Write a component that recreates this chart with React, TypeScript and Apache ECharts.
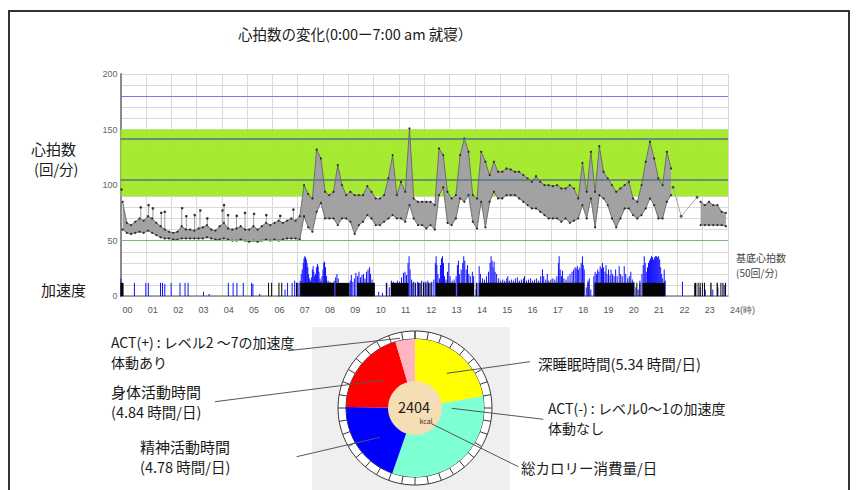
import React, { useEffect, useRef } from 'react';
import * as echarts from 'echarts';

// ---------- heart-rate data (10-minute slots, 0:00 – 24:00) ----------
const hrLow: (number | null)[] = [
  60, 57, 56, 57, 58, 57, 59, 57, 55, 53, 52, 52,
  51, 51, 52, 52, 52, 52, 52, 52, 53, 52, 51, 51,
  52, 51, 50, 50, 51, 50, 49, 50, 49, 50, 51, 50,
  51, 50, 51, 52, 52, 52, 51, 72, 62, 58, 76, 84,
  70, 70, 70, 64, 70, 70, 67, 56, 64, 67, 73, 70,
  64, 64, 67, 70, 73, 70, 70, 67, 82, 70, 64, 64,
  61, 64, 60, 91, 98, 66, 64, 70, 88, 85, 91, 67,
  61, 85, 62, 85, 94, 88, 88, 91, 91, 91, 88, 85,
  82, 79, 79, 76, 73, 70, 70, 70, 67, 70, 66, 68,
  70, 82, 70, 88, 62, 91, 88, 82, 70, 62, 70, 79,
  79, 73, 70, 73, 79, 88, 82, 70, 70, 85, 91, null,
  null, null, null, null, null, 64, 64, 64, 64, 64, 64, 63,
];
const hrHigh: (number | null)[] = [
  85, 66, 64, 67, 70, 68, 72, 70, 66, 63, 60, 58,
  57, 58, 63, 60, 60, 59, 61, 62, 64, 60, 59, 63,
  66, 61, 60, 61, 63, 60, 60, 63, 60, 63, 66, 64,
  66, 68, 66, 68, 70, 68, 72, 100, 92, 88, 132, 124,
  94, 91, 94, 118, 100, 91, 94, 91, 91, 91, 99, 94,
  88, 88, 91, 106, 127, 91, 103, 94, 151, 88, 85, 85,
  85, 85, 82, 133, 127, 94, 88, 91, 127, 142, 130, 91,
  88, 130, 121, 109, 121, 112, 112, 115, 114, 112, 112, 109,
  106, 103, 108, 103, 100, 100, 99, 100, 97, 97, 100, 97,
  88, 120, 94, 130, 94, 135, 112, 106, 100, 94, 97, 100,
  103, 88, 85, 100, 121, 139, 124, 106, 100, 130, 115, null,
  null, null, null, null, null, 85, 82, 85, 82, 82, 76, 75,
];
// isolated night-time peaks [hour, bpm]
const hrNightPeaks: number[][] = [
  [0.02, 97], [0.8, 80], [1.11, 82], [1.28, 79], [1.61, 75], [1.75, 76],
  [2.42, 80], [2.6, 72], [2.93, 73], [3.14, 78], [3.43, 70], [4.02, 78],
  [4.09, 82], [4.25, 73], [4.58, 73], [4.92, 75], [5.26, 75], [5.76, 73],
  [6.3, 73], [6.83, 78],
];
// sparse readings bridging the gap after 21:50 [hour, bpm]
const hrBridge: number[][] = [[21.83, 98], [22.15, 72], [22.78, 89]];

// ---------- acceleration data ----------
const actLevel = 12; // ACT(+) level marks
const actBlocks: number[][] = [
  [0, 0.12], [5.83, 5.86], [5.95, 5.98], [6.24, 6.27], [6.35, 6.38], [6.94, 7.0],
  [7.1, 8.45], [8.5, 9.05], [9.35, 10.05], [10.5, 10.53], [10.68, 11.38],
  [11.5, 11.53], [11.62, 11.65], [11.75, 11.78], [11.85, 11.88], [11.95, 12.0],
  [12.05, 12.08], [12.15, 12.18], [12.25, 12.28], [12.46, 13.25], [13.31, 13.97],
  [14.04, 14.07], [14.17, 18.32], [18.45, 18.48], [18.72, 20.3], [20.38, 20.41],
  [20.5, 20.53], [20.62, 21.51], [22.67, 22.75], [22.8, 22.83], [22.88, 22.92],
  [22.97, 23.0], [23.05, 23.08], [23.3, 23.35], [23.55, 23.6], [23.7, 23.73],
  [23.78, 23.82], [23.88, 23.92],
];
const accelSpikes: number[][] = [
  [0.02, 16], [0.06, 12], [0.55, 12], [1.0, 12], [1.1, 12], [1.58, 12], [1.66, 12],
  [1.75, 11], [2.0, 12], [2.35, 12], [2.55, 12], [2.67, 12], [3.28, 4], [3.5, 2],
  [4.26, 12], [4.45, 12], [4.6, 12], [4.85, 12], [5.18, 12], [5.23, 11], [5.5, 2],
  [6.5, 6], [6.6, 12], [6.78, 12], [6.88, 14], [6.95, 12],
  [7.05, 12], [7.1, 14], [7.14, 20], [7.18, 24], [7.22, 30], [7.25, 34], [7.28, 36],
  [7.31, 35], [7.34, 33], [7.37, 30], [7.4, 26], [7.43, 20], [7.46, 16], [7.5, 14],
  [7.54, 17], [7.58, 24], [7.61, 27], [7.64, 22], [7.67, 18], [7.7, 20], [7.74, 26],
  [7.78, 29], [7.81, 27], [7.84, 22], [7.88, 16], [7.92, 14], [7.96, 18], [8.0, 24],
  [8.03, 30], [8.06, 31], [8.1, 26], [8.14, 18], [8.2, 14], [8.28, 13], [8.36, 12],
  [8.44, 14], [8.5, 17], [8.55, 20], [8.6, 16], [8.68, 10], [8.78, 6], [8.9, 5],
  [9.0, 7], [9.08, 14], [9.12, 19], [9.18, 13], [9.24, 16], [9.3, 21], [9.36, 18],
  [9.42, 22], [9.48, 17], [9.54, 19], [9.6, 20], [9.66, 16], [9.72, 22], [9.78, 24],
  [9.84, 26], [9.88, 20], [9.94, 15], [10.0, 10], [10.2, 4], [10.35, 3], [10.5, 12],
  [10.62, 8], [10.7, 14], [10.78, 13], [10.86, 12], [10.94, 14], [11.02, 13],
  [11.1, 17], [11.18, 21], [11.24, 22], [11.3, 19], [11.36, 30], [11.4, 36],
  [11.44, 24], [11.5, 15], [11.58, 13], [11.66, 12], [11.74, 13], [11.82, 12],
  [11.9, 14], [11.98, 13], [12.06, 13], [12.14, 14], [12.22, 12], [12.3, 13],
  [12.38, 15], [12.44, 30], [12.47, 36], [12.5, 28], [12.54, 20], [12.6, 16],
  [12.64, 28], [12.68, 34], [12.72, 36], [12.76, 30], [12.8, 18], [12.86, 15],
  [12.92, 22], [12.97, 30], [13.02, 18], [13.1, 14], [13.18, 15], [13.26, 18],
  [13.31, 28], [13.35, 32], [13.4, 20], [13.46, 24], [13.52, 30], [13.56, 36],
  [13.6, 32], [13.66, 24], [13.71, 28], [13.76, 20], [13.82, 18], [13.9, 22],
  [13.95, 18], [14.05, 6], [14.12, 12], [14.17, 27], [14.22, 20], [14.3, 16],
  [14.38, 15], [14.46, 18], [14.54, 22], [14.6, 30], [14.64, 36], [14.68, 32],
  [14.72, 26], [14.76, 31], [14.8, 22], [14.86, 20], [14.94, 16], [15.02, 14],
  [15.1, 15], [15.18, 14], [15.26, 16], [15.3, 18], [15.36, 14], [15.44, 15],
  [15.52, 14], [15.6, 16], [15.68, 17], [15.76, 14], [15.84, 15], [15.92, 16],
  [15.96, 18], [16.04, 14], [16.12, 15], [16.2, 16], [16.28, 14], [16.36, 15],
  [16.44, 16], [16.52, 14], [16.6, 18], [16.67, 24], [16.72, 18], [16.8, 15],
  [16.86, 20], [16.92, 14], [17.0, 15], [17.08, 16], [17.16, 15], [17.24, 18],
  [17.3, 30], [17.33, 36], [17.37, 24], [17.42, 18], [17.46, 23], [17.52, 16],
  [17.6, 15], [17.68, 18], [17.76, 20], [17.84, 22], [17.9, 24], [17.96, 26],
  [18.0, 25], [18.05, 27], [18.1, 24], [18.15, 26], [18.2, 30], [18.25, 36],
  [18.28, 28], [18.32, 24], [18.4, 8], [18.47, 14], [18.52, 16], [18.58, 6],
  [18.7, 18], [18.75, 22], [18.8, 20], [18.85, 24], [18.9, 22], [18.95, 27],
  [19.0, 25], [19.04, 30], [19.08, 26], [19.14, 22], [19.18, 28], [19.22, 20],
  [19.28, 24], [19.34, 19], [19.38, 24], [19.44, 20], [19.5, 18], [19.56, 24],
  [19.62, 18], [19.7, 27], [19.76, 20], [19.82, 18], [19.9, 27], [19.96, 20],
  [20.04, 16], [20.1, 18], [20.16, 22], [20.22, 15], [20.28, 13], [20.36, 8],
  [20.45, 6], [20.52, 14], [20.6, 20], [20.65, 28], [20.69, 36], [20.73, 30],
  [20.77, 22], [20.82, 26], [20.86, 30], [20.9, 32], [20.94, 34], [20.98, 36],
  [21.02, 35], [21.06, 33], [21.1, 35], [21.14, 36], [21.18, 36], [21.22, 35],
  [21.26, 36], [21.3, 33], [21.34, 26], [21.38, 20], [21.42, 16], [21.48, 24],
  [21.52, 14], [22.2, 13], [22.7, 10], [22.9, 8], [23.1, 6], [23.4, 6], [23.6, 8],
  [23.85, 10],
];

// ---------- reference lines / bands ----------
const targetBand = [90, 150];
const upperLimit = 180;
const innerLines = [142, 105];
const baseHeartRate = 50;
const yLabelValues = [0, 50, 100, 150, 200];

// ---------- daily breakdown pie (hours/day, clockwise from 12 o'clock) ----------
const pieNames = ['深睡眠時間', 'ACT(-)', '精神活動時間', '身体活動時間', 'ACT(+)'];
const pieHours = [5.34, 7.94, 4.78, 4.84, 1.1];
const pieColors = ['#ffff00', '#7fffd4', '#0000ff', '#ff0000', '#ffb6c1'];
const totalKcal = 2404;

const FONT = '"Noto Sans CJK JP", "Noto Sans", sans-serif';

export default function App() {
  const ref = useRef<HTMLDivElement>(null);
  useEffect(() => {
    const chart = echarts.init(ref.current!, null, { renderer: 'svg' });
    const slotT = hrLow.map((_, i) => (i + 0.5) / 6);
    const lowData = hrLow.map((lo, i) => [slotT[i], lo]);
    const highData = hrHigh.map((hi, i) => [slotT[i], hi]);
    // contiguous runs of non-null slots
    const runs: number[][] = [];
    let start = -1;
    hrLow.forEach((lo, i) => {
      if (lo != null && start < 0) start = i;
      if ((lo == null || i === hrLow.length - 1) && start >= 0) {
        runs.push([start, lo == null ? i - 1 : i]);
        start = -1;
      }
    });

    const cx = 415;
    const cy = 408;

    const txt = (text: string, x: number, y: number, size: number, extra: any = {}) => ({
      type: 'text',
      x,
      y,
      z: 100,
      style: {
        text,
        fill: '#1a1a1a',
        fontSize: size,
        fontFamily: FONT,
        align: 'left',
        verticalAlign: 'middle',
        ...extra,
      },
    });
    const lead = (x1: number, y1: number, x2: number, y2: number) => ({
      type: 'line',
      z: 100,
      shape: { x1, y1, x2, y2 },
      style: { stroke: '#555', lineWidth: 1 },
    });

    const option: any = {
      animation: false,
      grid: { left: 120.5, right: 129, top: 74, bottom: 193.8, containLabel: false },
      xAxis: {
        type: 'value',
        min: 0,
        max: 24,
        interval: 1,
        axisLine: { show: true, lineStyle: { color: '#8a8a8a', width: 1.5 } },
        axisTick: { show: false },
        splitLine: { show: true, lineStyle: { color: '#d9d9d9', width: 1 } },
        axisLabel: {
          show: true,
          showMinLabel: true,
          showMaxLabel: true,
          margin: 9,
          fontSize: 9,
          color: '#555',
          fontFamily: 'Liberation Sans, Arial, sans-serif',
          align: 'left',
          padding: [0, 0, 0, 2],
          formatter: (v: number) => (v === 24 ? '24(時)' : String(v).padStart(2, '0')),
        },
      },
      yAxis: {
        type: 'value',
        min: 0,
        max: 200,
        interval: 10,
        axisLine: { show: true, lineStyle: { color: '#8a8a8a', width: 2 } },
        axisTick: { show: false },
        splitLine: { show: true, lineStyle: { color: '#d9d9d9', width: 1 } },
        axisLabel: {
          margin: 3,
          fontSize: 9,
          color: '#666',
          fontFamily: 'Liberation Sans, Arial, sans-serif',
          formatter: (v: number) => (yLabelValues.includes(v) ? String(v) : ''),
        },
      },
      series: [
        {
          name: 'hrBand',
          type: 'custom',
          coordinateSystem: 'cartesian2d',
          encode: { x: [0, 1], y: [2, 3] },
          data: runs.map(([s, e]) => [slotT[s], slotT[e], 50, 150]),
          z: 3,
          renderItem: (params: any, api: any) => {
            const [s, e] = runs[params.dataIndex];
            const pts: number[][] = [];
            for (let i = s; i <= e; i++) pts.push(api.coord([slotT[i], hrHigh[i]]));
            for (let i = e; i >= s; i--) pts.push(api.coord([slotT[i], hrLow[i]]));
            return { type: 'polygon', shape: { points: pts }, style: { fill: '#a2a2a2' } };
          },
        },
        {
          name: 'hrLowLine',
          type: 'line',
          data: lowData,
          symbol: 'circle',
          symbolSize: 2.2,
          showSymbol: true,
          itemStyle: { color: '#2a2a2a' },
          lineStyle: { color: '#666', width: 0.9 },
          z: 4,
          markArea: {
            silent: true,
            itemStyle: { color: '#9de81c', opacity: 0.9 },
            data: [[{ yAxis: targetBand[0] }, { yAxis: targetBand[1] }]],
          },
          markLine: {
            silent: true,
            symbol: 'none',
            label: { show: false },
            data: [
              { yAxis: upperLimit, lineStyle: { color: '#7a7ae0', width: 1, type: 'solid' } },
              { yAxis: innerLines[0], lineStyle: { color: '#58708c', width: 1.5, type: 'solid' } },
              { yAxis: innerLines[1], lineStyle: { color: '#58708c', width: 1.5, type: 'solid' } },
              { yAxis: baseHeartRate, lineStyle: { color: '#78b878', width: 1, type: 'solid' } },
            ],
          },
        },
        {
          name: 'hrHighLine',
          type: 'line',
          data: highData,
          symbol: 'circle',
          symbolSize: 2.2,
          showSymbol: true,
          itemStyle: { color: '#2a2a2a' },
          lineStyle: { color: '#666', width: 0.9 },
          z: 4,
        },
        {
          name: 'hrPeaks',
          type: 'custom',
          coordinateSystem: 'cartesian2d',
          encode: { x: 0, y: 1 },
          data: hrNightPeaks,
          z: 4,
          renderItem: (params: any, api: any) => {
            const h = api.value(0);
            const v = api.value(1);
            const slot = Math.min(143, Math.floor(h * 6));
            const base = (hrHigh[slot] as number) ?? v;
            const top = api.coord([h, v]);
            const bot = api.coord([h, base]);
            return {
              type: 'group',
              children: [
                {
                  type: 'line',
                  shape: { x1: top[0], y1: top[1], x2: bot[0], y2: bot[1] },
                  style: { stroke: '#9a9a9a', lineWidth: 1 },
                },
                { type: 'circle', shape: { cx: top[0], cy: top[1], r: 1.3 }, style: { fill: '#333' } },
              ],
            };
          },
        },
        {
          name: 'hrBridge',
          type: 'line',
          data: hrBridge,
          symbol: 'circle',
          symbolSize: 3,
          itemStyle: { color: '#555' },
          lineStyle: { color: '#aaa', width: 1 },
          z: 4,
        },
        {
          name: 'accelSpikes',
          type: 'custom',
          coordinateSystem: 'cartesian2d',
          encode: { x: 0, y: 1 },
          data: accelSpikes,
          z: 5,
          renderItem: (params: any, api: any) => {
            const h = api.value(0);
            const top = api.coord([h, api.value(1)]);
            const bot = api.coord([h, 0]);
            return {
              type: 'line',
              shape: { x1: top[0], y1: top[1], x2: bot[0], y2: bot[1] },
              style: { stroke: '#1010ff', lineWidth: 1 },
            };
          },
        },
        {
          name: 'actBlocks',
          type: 'custom',
          coordinateSystem: 'cartesian2d',
          encode: { x: [0, 1], y: 2 },
          data: actBlocks.map(([s, e]) => [s, e, actLevel]),
          z: 6,
          renderItem: (params: any, api: any) => {
            const p0 = api.coord([api.value(0), api.value(2)]);
            const p1 = api.coord([api.value(1), 0]);
            return {
              type: 'rect',
              shape: { x: p0[0], y: p0[1], width: Math.max(1, p1[0] - p0[0]), height: p1[1] - p0[1] },
              style: { fill: '#050505' },
            };
          },
        },
        {
          name: 'ring',
          type: 'pie',
          center: [cx, cy],
          radius: [69, 77],
          silent: true,
          label: { show: false },
          labelLine: { show: false },
          itemStyle: { color: '#ffffff', borderColor: '#3a3a3a', borderWidth: 1 },
          data: [{ value: 1, name: 'ring' }],
          z: 3,
        },
        {
          name: 'ticks',
          type: 'gauge',
          center: [cx, cy],
          radius: 77,
          startAngle: 90,
          endAngle: -270,
          min: 0,
          max: 24,
          splitNumber: 36,
          silent: true,
          axisLine: { show: true, lineStyle: { width: 8, color: [[1, 'rgba(0,0,0,0)']] } },
          splitLine: { show: true, length: 8, distance: -8, lineStyle: { color: '#3a3a3a', width: 1 } },
          axisTick: { show: false },
          axisLabel: { show: false },
          pointer: { show: false },
          anchor: { show: false },
          title: { show: false },
          detail: { show: false },
          data: [{ value: 0 }],
          z: 4,
        },
        {
          name: 'breakdown',
          type: 'pie',
          center: [cx, cy],
          radius: [0, 69],
          startAngle: 90,
          clockwise: true,
          silent: true,
          label: { show: false },
          labelLine: { show: false },
          data: pieNames.map((n, i) => ({ name: n, value: pieHours[i], itemStyle: { color: pieColors[i] } })),
          z: 5,
        },
        {
          name: 'kcal',
          type: 'pie',
          center: [cx, cy],
          radius: [0, 27],
          silent: true,
          label: { show: false },
          labelLine: { show: false },
          itemStyle: { color: '#f5deb3' },
          data: [{ value: totalKcal, name: 'kcal' }],
          z: 6,
        },
      ],
      graphic: [
        { type: 'rect', z: 0, shape: { x: 312, y: 327, width: 198, height: 170 }, style: { fill: '#efefef' } },
        {
          type: 'rect',
          z: 100,
          shape: { x: 9, y: 11, width: 840, height: 490 },
          style: { fill: 'none', stroke: '#333', lineWidth: 2 },
        },
        txt('心拍数の変化(0:00ー7:00 am 就寝）', 238, 33, 14.5),
        txt('心拍数', 31, 148, 15),
        txt('(回/分)', 34, 168, 14.5),
        txt('加速度', 41, 289, 15),
        txt('基底心拍数', 736, 257, 10, { fill: '#444' }),
        txt(`(${baseHeartRate}回/分)`, 736, 272, 10, { fill: '#444' }),
        txt('ACT(+) : レベル2 〜7の加速度', 111, 341.5, 14),
        txt('体動あり', 111, 362, 14),
        txt(pieNames[3], 111, 391.5, 15),
        txt(`(${pieHours[3].toFixed(2)} 時間/日)`, 111, 411.5, 14.5),
        txt(pieNames[2], 140, 446.5, 15),
        txt(`(${pieHours[2].toFixed(2)} 時間/日)`, 140, 466.5, 14.5),
        txt(`${pieNames[0]}(${pieHours[0].toFixed(2)} 時間/日)`, 538, 363, 14.5),
        txt('ACT(-) : レベル0〜1の加速度', 548, 407.5, 14),
        txt('体動なし', 548, 428, 14),
        txt('総カロリー消費量/日', 521, 467, 14.5),
        txt(String(totalKcal), cx - 1, cy - 2, 14.5, { align: 'center' }),
        txt('kcal', cx + 11, cy + 13, 7, { align: 'center', fill: '#333' }),
        lead(288, 350.7, 400, 338.3),
        lead(215, 401.7, 385, 380),
        lead(296.7, 456.7, 380, 437.3),
        lead(446.7, 373.3, 530, 361.7),
        lead(451.7, 408.3, 543.3, 419.3),
        lead(432, 424, 518.3, 466.7),
      ],
    };
    chart.setOption(option);
    return () => chart.dispose();
  }, []);
  return (
    <div
      ref={ref}
      style={{ position: 'fixed', left: 0, top: 0, width: 857, height: 490, background: '#fff' }}
    />
  );
}
